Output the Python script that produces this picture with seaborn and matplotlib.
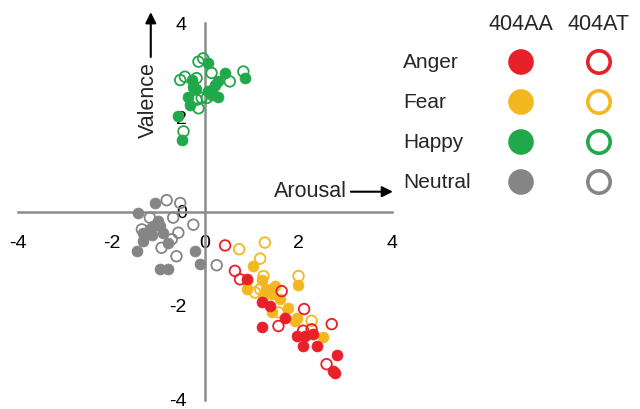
import pandas as pd
import matplotlib.pyplot as plt
import seaborn as sns

emotions = ["Anger", "Fear", "Happy", "Neutral"]
genotypes = ["404AA", "404AT"]
colors = {"Anger": "#e8202a", "Fear": "#f3b81f", "Happy": "#21a84a", "Neutral": "#858585"}
ticks = [-4, -2, 0, 2, 4]

# arousal (x) and valence (y)
anger_aa_x = [1.21, 1.39, 1.71, 1.21, 1.96, 2.14, 2.32, 2.10, 2.39, 2.83, 2.73, 2.78, 0.89]
anger_aa_y = [-1.93, -2.00, -2.27, -2.46, -2.64, -2.64, -2.60, -2.85, -2.86, -3.04, -3.38, -3.43, -1.44]
anger_at_x = [0.43, 0.64, 0.75, 1.64, 2.12, 1.57, 2.10, 2.28, 2.71, 2.60]
anger_at_y = [-0.72, -1.26, -1.44, -1.69, -2.07, -2.43, -2.53, -2.50, -2.39, -3.24]

fear_aa_x = [1.03, 0.89, 0.89, 1.21, 1.50, 1.25, 1.43, 1.60, 1.78, 1.43, 1.96, 1.93, 2.00, 2.52, 1.30]
fear_aa_y = [-1.16, -1.48, -1.65, -1.45, -1.58, -1.79, -1.76, -1.86, -2.04, -2.14, -2.25, -2.32, -1.57, -2.66, -1.65]
fear_at_x = [0.73, 1.28, 1.18, 1.25, 1.07, 1.18, 2.00, 1.57, 2.28]
fear_at_y = [-0.80, -0.66, -1.00, -1.37, -1.72, -1.65, -1.37, -2.14, -2.32]

happy_aa_x = [0.07, -0.28, -0.25, -0.20, 0.43, 0.86, 0.28, 0.21, 0.14, 0.07, 0.28, 0.14, -0.36, -0.32, -0.57, -0.50]
happy_aa_y = [3.16, 2.79, 2.65, 2.60, 2.94, 2.83, 2.76, 2.69, 2.58, 2.55, 2.44, 2.48, 2.44, 2.26, 2.02, 1.52]
happy_at_x = [-0.14, -0.04, -0.53, -0.43, -0.18, 0.14, 0.53, 0.82, -0.07, 0.04, -0.18, -0.14, -0.46]
happy_at_y = [3.18, 3.25, 2.79, 2.86, 2.83, 2.94, 2.76, 2.97, 2.41, 2.41, 2.37, 2.19, 1.70]

neutral_aa_x = [-1.07, -1.43, -1.00, -1.18, -1.11, -1.32, -1.32, -1.14, -0.89, -0.96, -0.79, -1.46, -0.21, -0.11, -0.96, -0.79]
neutral_aa_y = [0.17, -0.03, -0.21, -0.38, -0.30, -0.45, -0.63, -0.49, -0.45, -0.30, -0.66, -0.84, -0.84, -1.12, -1.23, -1.21]
neutral_at_x = [-0.82, -0.53, -1.18, -0.68, -0.25, -1.35, -0.57, -0.71, -0.93, -0.61, 0.25]
neutral_at_y = [0.24, 0.18, -0.13, -0.13, -0.28, -0.38, -0.45, -0.59, -0.77, -0.95, -1.14]

groups = {
    ("Neutral", "404AA"): (neutral_aa_x, neutral_aa_y),
    ("Neutral", "404AT"): (neutral_at_x, neutral_at_y),
    ("Happy", "404AA"): (happy_aa_x, happy_aa_y),
    ("Happy", "404AT"): (happy_at_x, happy_at_y),
    ("Fear", "404AA"): (fear_aa_x, fear_aa_y),
    ("Fear", "404AT"): (fear_at_x, fear_at_y),
    ("Anger", "404AA"): (anger_aa_x, anger_aa_y),
    ("Anger", "404AT"): (anger_at_x, anger_at_y),
}

rows = []
for (emo, geno), (xs, ys) in groups.items():
    for x, y in zip(xs, ys):
        rows.append({"arousal": x, "valence": y, "emotion": emo, "genotype": geno})
df = pd.DataFrame(rows)

sns.set_style("white")
plt.rcParams["font.family"] = ["Liberation Sans", "DejaVu Sans"]
plt.rcParams["axes.unicode_minus"] = False

fig = plt.figure(figsize=(6.4, 4.09), dpi=100)
ax = fig.add_axes([18 / 640, 9 / 409, 374 / 640, 377 / 409])
axis_col = "#8c8c8c"

for (emo, geno) in groups:
    sub = df[(df.emotion == emo) & (df.genotype == geno)]
    c = colors[emo]
    if geno == "404AA":
        sns.scatterplot(data=sub, x="arousal", y="valence", ax=ax, color=c,
                        edgecolor=c, linewidth=0.5, s=62, zorder=3, legend=False)
    else:
        sns.scatterplot(data=sub, x="arousal", y="valence", ax=ax, color=c,
                        facecolor="none", edgecolor=c, linewidth=1.3, s=58,
                        zorder=3, legend=False)

ax.set_xlim(-4, 4)
ax.set_ylim(-4, 4)
ax.set_xticks(ticks)
ax.set_yticks(ticks)
ax.set_xticklabels([str(t) for t in ticks])
ax.set_yticklabels([str(t) for t in ticks])
ax.set_xlabel("")
ax.set_ylabel("")
for side in ["top", "right"]:
    ax.spines[side].set_visible(False)
for side in ["left", "bottom"]:
    ax.spines[side].set_position(("data", 0))
    ax.spines[side].set_color(axis_col)
    ax.spines[side].set_linewidth(1.8)
ax.tick_params(axis="both", direction="out", length=5, width=1.8, color=axis_col,
               labelsize=14, labelcolor="black")
ax.tick_params(axis="x", pad=12)
ax.tick_params(axis="y", pad=8)
ax.patch.set_alpha(0)

# axis titles with arrows
ax.text(2.26, 0.42, "Arousal", fontsize=15.5, ha="center", va="center")
ax.annotate("", xy=(4.02, 0.42), xytext=(3.12, 0.42), annotation_clip=False,
            arrowprops=dict(arrowstyle="-|>", color="black", lw=1.5,
                            mutation_scale=16, shrinkA=0, shrinkB=0))
ax.text(-1.2, 2.37, "Valence", fontsize=15.5, ha="center", va="center", rotation=90)
ax.annotate("", xy=(-1.16, 4.23), xytext=(-1.16, 3.28), annotation_clip=False,
            arrowprops=dict(arrowstyle="-|>", color="black", lw=1.5,
                            mutation_scale=16, shrinkA=0, shrinkB=0))

# legend table on the right
lg = fig.add_axes([0, 0, 1, 1])
lg.set_xlim(0, 640)
lg.set_ylim(409, 0)
lg.axis("off")
col_x = [521, 599]
row_y = [62, 102, 142, 182]
for gx, geno in zip(col_x, genotypes):
    lg.text(gx, 25, geno, fontsize=15.5, ha="center", va="center")
for ry, emo in zip(row_y, emotions):
    lg.text(403, ry, emo, fontsize=15, ha="left", va="center")
    c = colors[emo]
    lg.scatter([col_x[0]], [ry], s=340, color=c, edgecolor="none")
    lg.scatter([col_x[1]], [ry], s=260, facecolor="none", edgecolor=c, linewidth=2.6)

fig.savefig("out.png", dpi=100, facecolor="white")
